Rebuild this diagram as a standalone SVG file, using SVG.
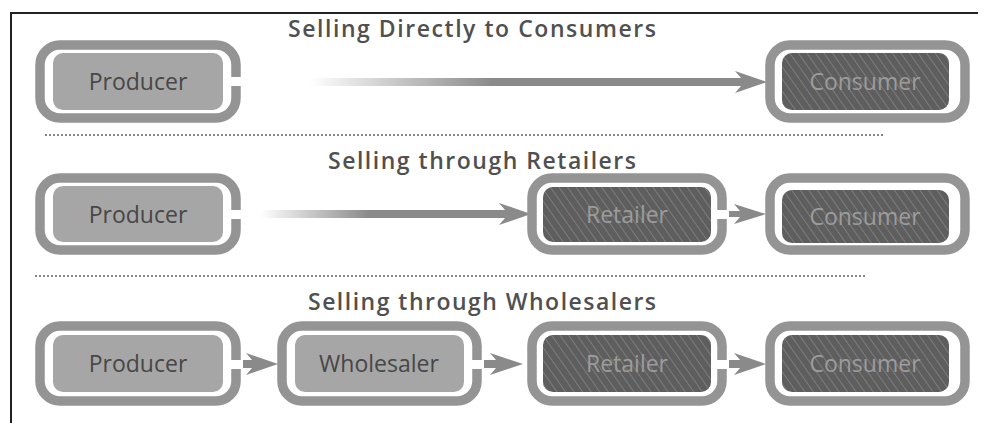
<svg xmlns="http://www.w3.org/2000/svg" width="985" height="423" viewBox="0 0 985 423">
<style>
.ring{fill:none;stroke:#949494;stroke-width:9.5}
.fl{fill:#a6a6a6}
.fd{fill:#5e5e5e}
.hatch{fill:url(#hatch)}
.notch{fill:#fff}
.lbl{font-family:"Open Sans","DejaVu Sans",sans-serif;font-size:23px;text-anchor:middle;dominant-baseline:central}
.ld{fill:#474747}
.lk{fill:#9c9c9c}
.title{font-family:"Open Sans","DejaVu Sans",sans-serif;font-size:23px;font-weight:600;fill:#505050;text-anchor:middle}
.sep{stroke:#606060;stroke-width:1.5;stroke-dasharray:2 2;fill:none}
.arr{fill:#8a8a8a}
.arrf{fill:url(#fade)}
.frame{fill:none;stroke:#222;stroke-width:2}
</style>
<defs>
<linearGradient id="fade" x1="0" y1="0" x2="1" y2="0">
<stop offset="0" stop-color="#8a8a8a" stop-opacity="0"/>
<stop offset="0.4" stop-color="#8a8a8a" stop-opacity="1"/>
<stop offset="1" stop-color="#8a8a8a" stop-opacity="1"/>
</linearGradient>
<pattern id="hatch" width="7" height="7" patternUnits="userSpaceOnUse" patternTransform="rotate(-35)">
<line x1="0" y1="0" x2="0" y2="7" stroke="#7c7c7c" stroke-width="2"/>
</pattern>
</defs>

<path class="frame" d="M11,423 V13 H978"/>

<g id="titles">
<text class="title" x="472" y="37" textLength="368" lengthAdjust="spacing">Selling Directly to Consumers</text>
<text class="title" x="482" y="169" textLength="308" lengthAdjust="spacing">Selling through Retailers</text>
<text class="title" x="482" y="310" textLength="348" lengthAdjust="spacing">Selling through Wholesalers</text>
</g>

<g id="separators">
<line class="sep" x1="45" y1="135" x2="883" y2="135"/>
<line class="sep" x1="35" y1="276" x2="865" y2="276"/>
</g>

<g id="connectors">
<path class="arrf" d="M310,78 H741 L735,71 L767,82 L735,93 L741,86 H310 Z"/>
<path class="arrf" d="M260,210 H505 L499,203 L531,214 L499,225 L505,218 H260 Z"/>
<path class="arr" d="M725,211 H740 L734,204 L766,214 L734,224 L740,217 H725 Z"/>
<path class="arr" d="M241,360 H252 L246,353 L278,364 L246,375 L252,368 H241 Z"/>
<path class="arr" d="M482,360 H496 L490,353 L523,364 L490,375 L496,368 H482 Z"/>
<path class="arr" d="M727,360 H740 L734,353 L766,364 L734,375 L740,368 H727 Z"/>
</g>

<g id="r1-producer">
<rect class="ring" x="40" y="45" width="196" height="73" rx="20"/>
<rect class="notch" x="229" y="77" width="14" height="9"/>
<rect class="fl" x="53" y="53" width="170" height="57" rx="10"/>
<text class="lbl ld" x="138" y="81">Producer</text>
</g>
<g id="r1-consumer">
<rect class="ring" x="770" y="45" width="195" height="73" rx="20"/>
<rect class="fd" x="782" y="53" width="167" height="57" rx="10"/>
<rect class="hatch" x="782" y="53" width="167" height="57" rx="10"/>
<text class="lbl lk" x="865" y="81">Consumer</text>
</g>

<g id="r2-producer">
<rect class="ring" x="40" y="178" width="196" height="72" rx="20"/>
<rect class="notch" x="229" y="210" width="14" height="9"/>
<rect class="fl" x="53" y="186" width="170" height="56" rx="10"/>
<text class="lbl ld" x="138" y="214">Producer</text>
</g>
<g id="r2-retailer">
<rect class="ring" x="532" y="178" width="190" height="72" rx="20"/>
<rect class="notch" x="715" y="210" width="14" height="9"/>
<rect class="fd" x="543" y="187" width="168" height="55" rx="10"/>
<rect class="hatch" x="543" y="187" width="168" height="55" rx="10"/>
<text class="lbl lk" x="627" y="214">Retailer</text>
</g>
<g id="r2-consumer">
<rect class="ring" x="770" y="178" width="195" height="72" rx="20"/>
<rect class="fd" x="782" y="190" width="167" height="53" rx="10"/>
<rect class="hatch" x="782" y="190" width="167" height="53" rx="10"/>
<text class="lbl lk" x="865" y="216">Consumer</text>
</g>

<g id="r3-producer">
<rect class="ring" x="40" y="326" width="196" height="75" rx="20"/>
<rect class="notch" x="229" y="360" width="14" height="9"/>
<rect class="fl" x="53" y="335" width="170" height="57" rx="10"/>
<text class="lbl ld" x="138" y="363">Producer</text>
</g>
<g id="r3-wholesaler">
<rect class="ring" x="282" y="326" width="195" height="75" rx="20"/>
<rect class="notch" x="470" y="360" width="14" height="9"/>
<rect class="fl" x="295" y="335" width="169" height="57" rx="10"/>
<text class="lbl ld" x="379" y="363">Wholesaler</text>
</g>
<g id="r3-retailer">
<rect class="ring" x="532" y="326" width="190" height="75" rx="20"/>
<rect class="notch" x="715" y="360" width="14" height="9"/>
<rect class="fd" x="543" y="335" width="168" height="57" rx="10"/>
<rect class="hatch" x="543" y="335" width="168" height="57" rx="10"/>
<text class="lbl lk" x="627" y="363">Retailer</text>
</g>
<g id="r3-consumer">
<rect class="ring" x="770" y="326" width="195" height="75" rx="20"/>
<rect class="fd" x="782" y="335" width="167" height="57" rx="10"/>
<rect class="hatch" x="782" y="335" width="167" height="57" rx="10"/>
<text class="lbl lk" x="865" y="363">Consumer</text>
</g>
</svg>
